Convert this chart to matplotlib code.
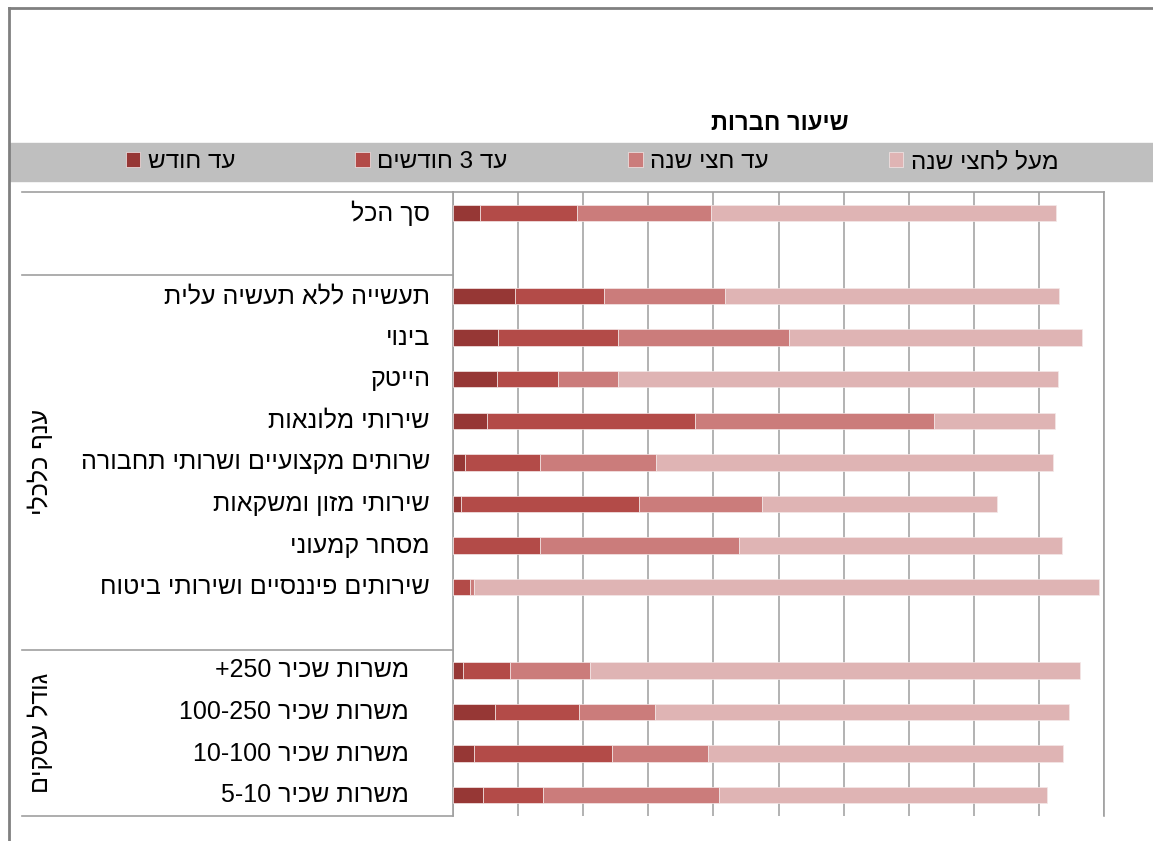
import re
import numpy as np
import matplotlib
matplotlib.use('Agg')
import matplotlib.pyplot as plt
import matplotlib.transforms as mtransforms
from matplotlib.lines import Line2D
from matplotlib.patches import Rectangle

plt.rcParams['font.family'] = ['Liberation Sans', 'DejaVu Sans']

# --- data (percent of companies) ---
title = 'שיעור חברות'
series_names = ['עד חודש', 'עד 3 חודשים', 'עד חצי שנה', 'מעל לחצי שנה']
series_colors = ['#963735', '#b34b48', '#cb7c7b', '#dfb4b4']

group_names = ['', 'ענף כלכלי', 'גודל עסקים']
group_rows = [
    ['סך הכל'],
    ['תעשייה ללא תעשיה עלית', 'בינוי', 'הייטק', 'שירותי מלונאות',
     'שרותים מקצועיים ושרותי תחבורה', 'שירותי מזון ומשקאות', 'מסחר קמעוני',
     'שירותים פיננסיים ושירותי ביטוח '],
    ['   משרות שכיר 250+', '   משרות שכיר 100-250', '   משרות שכיר 10-100',
     '   משרות שכיר 5-10'],
]

upto_month = [4.1, 9.5, 6.9, 6.8, 5.2, 1.8, 1.3, 0.0, 0.0, 1.6, 6.5, 3.2, 4.6]
upto_3months = [14.9, 13.7, 18.4, 9.3, 32.0, 11.5, 27.2, 13.3, 2.6, 7.1, 12.9, 21.3, 9.3]
upto_half_year = [20.6, 18.6, 26.3, 9.2, 36.7, 17.9, 18.9, 30.7, 0.6, 12.4, 11.6, 14.6, 27.0]
over_half_year = [53.0, 51.3, 45.0, 67.7, 18.5, 60.9, 36.1, 49.5, 96.0, 75.2, 63.7, 54.6, 50.3]


def rtl(s):
    # matplotlib has no bidi support: put Hebrew into visual order
    r = s[::-1]
    return re.sub(r'\d+(?:[-+.]\d+)*', lambda m: m.group(0)[::-1], r)


W, H = 1153, 841
fig = plt.figure(figsize=(W / 100, H / 100), dpi=100)
fig.patch.set_facecolor('white')

ax_left, ax_right, ax_top, ax_bot = 453, 1104, 192, 816
ax = fig.add_axes([ax_left / W, 1 - ax_bot / H, (ax_right - ax_left) / W, (ax_bot - ax_top) / H])

# slot positions: one blank slot after every group except the last
positions, labels, bounds, group_spans = [], [], [-0.5], []
slot = 0
for gi, rows in enumerate(group_rows):
    start = slot
    for r in rows:
        positions.append(slot)
        labels.append(r)
        slot += 1
    if gi < len(group_rows) - 1:
        slot += 1
    group_spans.append((start - 0.5, slot - 0.5))
    bounds.append(slot - 0.5)
n_slots = slot
positions = np.array(positions)

left = np.zeros(len(positions))
for vals, name, col in zip([upto_month, upto_3months, upto_half_year, over_half_year],
                           series_names, series_colors):
    ax.barh(positions, vals, left=left, height=0.39, color=col, label=rtl(name),
            edgecolor='#f4e8e8', linewidth=0.5, zorder=3)
    left += np.array(vals)

ax.set_xlim(0, 100)
ax.set_ylim(n_slots - 0.5, -0.5)
ax.set_xticks(np.arange(0, 101, 10))
ax.set_yticks([])
ax.tick_params(axis='x', length=0, labelbottom=False)
ax.grid(axis='x', color='#a6a6a6', linewidth=1.2, zorder=0)
for sp in ['left', 'top', 'right']:
    ax.spines[sp].set_color('#a0a0a0')
    ax.spines[sp].set_linewidth(1.2)
ax.spines['bottom'].set_visible(False)

# table on the left
trans = mtransforms.blended_transform_factory(fig.transFigure, ax.transData)
for b in bounds:
    ax.plot([22 / W, ax_left / W], [b, b], transform=trans, color='#a0a0a0',
            lw=1.2, clip_on=False)
for p, lab in zip(positions, labels):
    ax.text(430 / W, p, rtl(lab), transform=trans, ha='right', va='center',
            fontsize=18, color='black')
for name, (a, b) in zip(group_names, group_spans):
    if name:
        ax.text(40 / W, (a + b) / 2, rtl(name), transform=trans, ha='center',
                va='center', rotation=90, fontsize=18)

# outer frame
fig.add_artist(Line2D([9 / W, 1], [1 - 8 / H, 1 - 8 / H], color='#808080', lw=2))
fig.add_artist(Line2D([9 / W, 9 / W], [0, 1 - 8 / H], color='#808080', lw=2))

# title and legend band
fig.text(780 / W, 1 - 123 / H, rtl(title), ha='center', va='center',
         fontsize=17, fontweight='bold')
fig.add_artist(Rectangle((10 / W, 1 - 181 / H), 1 - 10 / W, 38 / H,
                         transform=fig.transFigure, color='#bfbfbf', zorder=0))
fig.legend(loc='center', bbox_to_anchor=(592 / W, 1 - 162 / H), ncol=4,
           frameon=False, fontsize=17.5, handlelength=0.6, handleheight=0.6,
           handletextpad=0.3, columnspacing=4.95)

fig.savefig('out.png', dpi=100)
